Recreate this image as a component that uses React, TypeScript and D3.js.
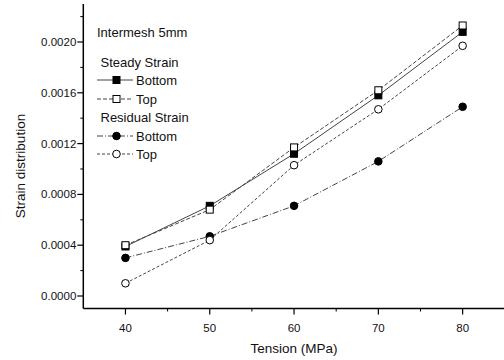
import * as d3 from 'd3'

// tension values (MPa)
const tension = [40, 50, 60, 70, 80]

// strain readings per series
const steadyBottom = [0.00039, 0.00071, 0.00112, 0.00158, 0.00208]
const steadyTop = [0.0004, 0.00068, 0.00117, 0.00162, 0.00213]
const residualBottom = [0.0003, 0.00047, 0.00071, 0.00106, 0.00149]
const residualTop = [0.0001, 0.00044, 0.00103, 0.00147, 0.00197]

const xTicks = [40, 50, 60, 70, 80]
const xMinor = [45, 55, 65, 75, 85]
const yTicks = [0, 0.0004, 0.0008, 0.0012, 0.0016, 0.002]
const yMinor = [0.0002, 0.0006, 0.001, 0.0014, 0.0018, 0.0022]

const W = 504
const H = 360
const font = 'Liberation Sans, Arial, Helvetica, sans-serif'

type Series = {
  name: string
  values: number[]
  marker: 'square' | 'circle'
  filled: boolean
  dash: string
}

const series: Series[] = [
  { name: 'Steady Bottom', values: steadyBottom, marker: 'square', filled: true, dash: '' },
  { name: 'Steady Top', values: steadyTop, marker: 'square', filled: false, dash: '4 2' },
  { name: 'Residual Bottom', values: residualBottom, marker: 'circle', filled: true, dash: '6 2 1 2' },
  { name: 'Residual Top', values: residualTop, marker: 'circle', filled: false, dash: '3 2' },
]

function Marker({ x, y, kind, filled }: { x: number; y: number; kind: string; filled: boolean }) {
  const fill = filled ? '#000' : '#fff'
  if (kind === 'square') {
    return <rect x={x - 3.5} y={y - 3.5} width={7} height={7} fill={fill} stroke="#000" strokeWidth={1} />
  }
  return <circle cx={x} cy={y} r={3.8} fill={fill} stroke="#000" strokeWidth={1} />
}

export default function App() {
  const x = d3.scaleLinear().domain([35, 85]).range([83.3, 504.8])
  const y = d3.scaleLinear().domain([-0.0001, 0.0023]).range([308.7, 3.9])

  const line = d3
    .line<number>()
    .x((_, i) => x(tension[i]))
    .y(d => y(d))

  const axisY = 308.5
  const axisX = 83.3

  const legendRows = [
    { label: 'Bottom', s: series[0], y: 80 },
    { label: 'Top', s: series[1], y: 99 },
    { label: 'Bottom', s: series[2], y: 136 },
    { label: 'Top', s: series[3], y: 154 },
  ]

  return (
    <svg width={W} height={H} style={{ position: 'fixed', left: 0, top: 0, background: '#fff' }}>
      <rect width={W} height={H} fill="#fff" />

      {/* series lines */}
      {series.map(s => (
        <path
          key={s.name}
          d={line(s.values) || ''}
          fill="none"
          stroke="#444"
          strokeWidth={1}
          strokeDasharray={s.dash}
        />
      ))}
      {series.map(s =>
        s.values.map((v, i) => (
          <Marker key={s.name + i} x={x(tension[i])} y={y(v)} kind={s.marker} filled={s.filled} />
        ))
      )}

      {/* axes */}
      <line x1={axisX} x2={axisX} y1={y(0.0023)} y2={axisY} stroke="#000" strokeWidth={1.5} />
      <line x1={axisX} x2={W} y1={axisY} y2={axisY} stroke="#000" strokeWidth={1.5} />

      {yTicks.map(t => (
        <g key={'y' + t}>
          <line x1={axisX - 6} x2={axisX} y1={y(t)} y2={y(t)} stroke="#000" strokeWidth={1.2} />
          <text
            x={axisX - 7}
            y={y(t) + 4}
            textAnchor="end"
            fontFamily={font}
            fontSize={11.5}
            fill="#111"
          >
            {d3.format('.4f')(t)}
          </text>
        </g>
      ))}
      {yMinor.map(t => (
        <line key={'ym' + t} x1={axisX - 3} x2={axisX} y1={y(t)} y2={y(t)} stroke="#000" strokeWidth={1} />
      ))}

      {xTicks.map(t => (
        <g key={'x' + t}>
          <line x1={x(t)} x2={x(t)} y1={axisY} y2={axisY + 6} stroke="#000" strokeWidth={1.2} />
          <text x={x(t)} y={axisY + 23} textAnchor="middle" fontFamily={font} fontSize={11.5} fill="#111">
            {t}
          </text>
        </g>
      ))}
      {xMinor.map(t => (
        <line key={'xm' + t} x1={x(t)} x2={x(t)} y1={axisY} y2={axisY + 3} stroke="#000" strokeWidth={1} />
      ))}

      {/* axis titles */}
      <text x={294} y={353} textAnchor="middle" fontFamily={font} fontSize={13.5} fill="#111">
        Tension (MPa)
      </text>
      <text
        transform="translate(25,166) rotate(-90)"
        textAnchor="middle"
        fontFamily={font}
        fontSize={13.5}
        fill="#111"
      >
        Strain distribution
      </text>

      {/* legend */}
      <g fontFamily={font} fontSize={13} fill="#111">
        <text x={97} y={37}>Intermesh 5mm</text>
        <text x={100.5} y={67}>Steady Strain</text>
        <text x={100.5} y={122}>Residual Strain</text>
        {legendRows.map((r, i) => (
          <g key={'lg' + i}>
            <line x1={97} x2={133} y1={r.y} y2={r.y} stroke="#444" strokeWidth={1} strokeDasharray={r.s.dash} />
            <Marker x={116.5} y={r.y} kind={r.s.marker} filled={r.s.filled} />
            <text x={136} y={r.y + 4.5}>{r.label}</text>
          </g>
        ))}
      </g>
    </svg>
  )
}
